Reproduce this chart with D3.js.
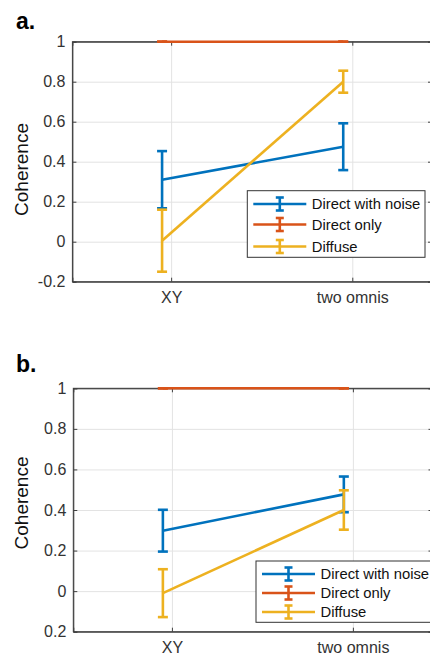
<!DOCTYPE html>
<html>
<head>
<meta charset="utf-8">
<script src="https://cdn.jsdelivr.net/npm/d3@7"></script>
<style>
  html, body { margin: 0; padding: 0; background: #fff; }
  svg { display: block; font-family: "Liberation Sans", Arial, Helvetica, sans-serif; }
</style>
</head>
<body>
<script>
// ---------- data ----------
const categories = ["XY", "two omnis"];
const seriesNames = ["Direct with noise", "Direct only", "Diffuse"];
const seriesColors = ["#0072BD", "#D95319", "#EDB120"];

const yTicksA = [-0.2, 0, 0.2, 0.4, 0.6, 0.8, 1];
const yTickLabelsA = ["-0.2", "0", "0.2", "0.4", "0.6", "0.8", "1"];
const yTicksB = [-0.2, 0, 0.2, 0.4, 0.6, 0.8, 1];
const yTickLabelsB = ["0.2", "0", "0.2", "0.4", "0.6", "0.8", "1"];

// panel a
const aNoiseMean   = [0.310, 0.475];
const aNoiseErr    = [0.143, 0.117];
const aDirectMean  = [1, 1];
const aDirectErr   = [0, 0];
const aDiffuseMean = [0.005, 0.800];
const aDiffuseErr  = [0.155, 0.055];

// panel b
const bNoiseMean   = [0.298, 0.477];
const bNoiseErr    = [0.103, 0.088];
const bDirectMean  = [1, 1];
const bDirectErr   = [0, 0];
const bDiffuseMean = [-0.010, 0.400];
const bDiffuseErr  = [0.118, 0.097];

// ---------- drawing ----------
const W = 430, H = 659;
const svg = d3.select("body").append("svg").attr("width", W).attr("height", H);

function drawPanel(cfg) {
  const g = svg.append("g");
  const x = d3.scaleLinear().domain([0.455, 2.44]).range([cfg.left, cfg.right]);
  const y = d3.scaleLinear().domain([-0.2, 1]).range([cfg.bottom, cfg.top]);
  const catPos = categories.map((c, i) => i + 1);
  const dataOffset = -0.05;
  const sw = 2.6;

  // grid
  g.append("g").attr("transform", `translate(0,${cfg.bottom})`)
    .call(d3.axisBottom(x).tickValues(catPos).tickSize(-(cfg.bottom - cfg.top)).tickFormat(""))
    .call(s => { s.select(".domain").remove(); s.selectAll("line").attr("stroke", "#e3e3e3").attr("stroke-width", 1); });
  g.append("g").attr("transform", `translate(${cfg.left},0)`)
    .call(d3.axisLeft(y).tickValues(cfg.yTicks).tickSize(-(cfg.right - cfg.left)).tickFormat(""))
    .call(s => { s.select(".domain").remove(); s.selectAll("line").attr("stroke", "#e3e3e3").attr("stroke-width", 1); });

  // axes box
  const axisColor = "#404040";
  g.append("rect").attr("x", cfg.left).attr("y", cfg.top)
    .attr("width", cfg.right - cfg.left).attr("height", cfg.bottom - cfg.top)
    .attr("fill", "none").attr("stroke", axisColor).attr("stroke-width", 1);

  // left axis
  g.append("g").attr("transform", `translate(${cfg.left},0)`)
    .call(d3.axisLeft(y).tickValues(cfg.yTicks).tickSize(-4).tickPadding(7)
      .tickFormat((d, i) => cfg.yLabels[i]))
    .call(s => {
      s.select(".domain").attr("stroke", axisColor);
      s.selectAll("line").attr("stroke", axisColor);
      s.selectAll("text").attr("font-size", 16).attr("fill", "#333")
        .attr("font-family", "Liberation Sans, Arial, sans-serif");
    });
  // right ticks
  g.append("g").attr("transform", `translate(${cfg.right},0)`)
    .call(d3.axisRight(y).tickValues(cfg.yTicks).tickSize(-4).tickFormat(""))
    .call(s => { s.select(".domain").attr("stroke", axisColor); s.selectAll("line").attr("stroke", axisColor); });
  // bottom axis
  g.append("g").attr("transform", `translate(0,${cfg.bottom})`)
    .call(d3.axisBottom(x).tickValues(catPos).tickSize(-4).tickPadding(10)
      .tickFormat((d, i) => categories[i]))
    .call(s => {
      s.select(".domain").attr("stroke", axisColor);
      s.selectAll("line").attr("stroke", axisColor);
      s.selectAll("text").attr("font-size", 16).attr("fill", "#333")
        .attr("font-family", "Liberation Sans, Arial, sans-serif");
    });
  // top ticks
  g.append("g").attr("transform", `translate(0,${cfg.top})`)
    .call(d3.axisTop(x).tickValues(catPos).tickSize(-4).tickFormat(""))
    .call(s => { s.select(".domain").attr("stroke", axisColor); s.selectAll("line").attr("stroke", axisColor); });

  // series
  const capHalf = 5;
  cfg.series.forEach((ser, si) => {
    const col = seriesColors[si];
    const pts = ser.mean.map((m, i) => ({ x: catPos[i] + dataOffset, m, e: ser.err[i] }));
    const line = d3.line().x(d => x(d.x)).y(d => y(d.m));
    g.append("path").datum(pts).attr("d", line)
      .attr("fill", "none").attr("stroke", col).attr("stroke-width", sw);
    pts.forEach(d => {
      const cx = x(d.x);
      g.append("line").attr("x1", cx).attr("x2", cx).attr("y1", y(d.m - d.e)).attr("y2", y(d.m + d.e))
        .attr("stroke", col).attr("stroke-width", sw);
      [d.m - d.e, d.m + d.e].forEach(v => {
        g.append("line").attr("x1", cx - capHalf).attr("x2", cx + capHalf).attr("y1", y(v)).attr("y2", y(v))
          .attr("stroke", col).attr("stroke-width", sw);
      });
    });
  });

  // y label
  g.append("text")
    .attr("transform", `translate(28,${cfg.ylabelY}) rotate(-90)`)
    .attr("text-anchor", "middle").attr("font-size", 19).attr("fill", "#111")
    .text("Coherence");

  // panel letter
  g.append("text").attr("x", 16).attr("y", cfg.letterY)
    .attr("font-size", 23).attr("font-weight", "bold").attr("fill", "#000")
    .text(cfg.letter);

  // legend
  const L = cfg.legend;
  g.append("rect").attr("x", L.x).attr("y", L.y).attr("width", L.w).attr("height", L.h)
    .attr("fill", "#fff").attr("stroke", "#333").attr("stroke-width", 1);
  seriesNames.forEach((name, i) => {
    const ry = L.rows[i];
    const col = seriesColors[i];
    const lx1 = L.x + 6, lx2 = L.x + 59, mid = (lx1 + lx2) / 2;
    g.append("line").attr("x1", lx1).attr("x2", lx2).attr("y1", ry).attr("y2", ry)
      .attr("stroke", col).attr("stroke-width", sw);
    g.append("line").attr("x1", mid).attr("x2", mid).attr("y1", ry - 6.5).attr("y2", ry + 6.5)
      .attr("stroke", col).attr("stroke-width", sw);
    [ry - 6.5, ry + 6.5].forEach(v => {
      g.append("line").attr("x1", mid - 4).attr("x2", mid + 4).attr("y1", v).attr("y2", v)
        .attr("stroke", col).attr("stroke-width", sw);
    });
    g.append("text").attr("x", L.x + 64.5).attr("y", ry).attr("dy", "0.36em")
      .attr("font-size", 14.8).attr("fill", "#111").text(name);
  });
}

drawPanel({
  letter: "a.", letterY: 28.5,
  left: 72.4, right: 432, top: 41.7, bottom: 281.7,
  ylabelY: 169.5,
  yTicks: yTicksA, yLabels: yTickLabelsA,
  series: [
    { mean: aNoiseMean, err: aNoiseErr },
    { mean: aDirectMean, err: aDirectErr },
    { mean: aDiffuseMean, err: aDiffuseErr }
  ],
  legend: { x: 247.3, y: 190.7, w: 177.7, h: 66.6, rows: [204, 224.5, 246.5] }
});

drawPanel({
  letter: "b.", letterY: 371.7,
  left: 73.3, right: 432.5, top: 388.3, bottom: 631.7,
  ylabelY: 503,
  yTicks: yTicksB, yLabels: yTickLabelsB,
  series: [
    { mean: bNoiseMean, err: bNoiseErr },
    { mean: bDirectMean, err: bDirectErr },
    { mean: bDiffuseMean, err: bDiffuseErr }
  ],
  legend: { x: 256, y: 561, w: 180, h: 61.3, rows: [574, 593, 612] }
});
</script>
</body>
</html>
